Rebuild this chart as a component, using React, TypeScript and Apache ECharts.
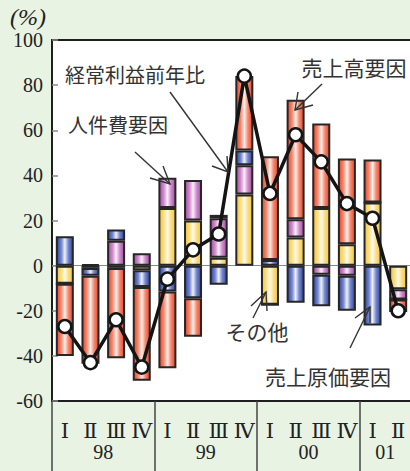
import React, { useEffect, useRef } from "react";
import * as echarts from "echarts";

// Quarter labels along the category axis (1998 Q1 – 2001 Q2)
const quarters = ["Ⅰ", "Ⅱ", "Ⅲ", "Ⅳ", "Ⅰ", "Ⅱ", "Ⅲ", "Ⅳ", "Ⅰ", "Ⅱ", "Ⅲ", "Ⅳ", "Ⅰ", "Ⅱ"];
// Fiscal years and how many quarters of each are shown
const years = ["98", "99", "00", "01"];
const yearQuarterCounts = [4, 4, 4, 2];

// Contribution of each factor (percentage points)
const otherFactor = [-8, -1, -1, -2, 25.5, 20, 3.5, 31.5, -17.3, 12.5, 25.5, 9.5, 28, -10.5];
const laborCostFactor = [0, 0.5, 11, 5.5, 13.5, 18, 17.5, 13, 0, 8, -4, -4.5, 0, -4.5];
const costOfSalesFactor = [13, -3.5, 5, -7.5, -11.5, -14.5, -8.5, 6.5, 2.5, -16.5, -14, -15.5, -26.5, 0];
const salesFactor = [-32, -39, -40, -41.5, -34, -17, 1.5, 33, 46, 53, 37.5, 38, 19, -5.5];

// Year-on-year change of ordinary profit (%)
const ordinaryProfitYoY = [-27, -43, -24, -45, -6, 7, 14, 84, 32, 58, 46, 27.5, 21, -20];

const yTicks = { min: -60, max: 100, interval: 20 };

const JP_FONT = "'Noto Sans CJK JP', sans-serif";
const SERIF = "'Liberation Serif', 'DejaVu Serif', serif";

function shade(edge: string, body: string, mid: string) {
  return new echarts.graphic.LinearGradient(0, 0, 1, 0, [
    { offset: 0, color: edge },
    { offset: 0.28, color: body },
    { offset: 0.5, color: mid },
    { offset: 0.72, color: body },
    { offset: 1, color: edge },
  ]);
}

function barSeries(name: string, data: number[], edge: string, body: string, mid: string) {
  return {
    name,
    type: "bar",
    stack: "total",
    data,
    barWidth: 18,
    itemStyle: { color: shade(edge, body, mid), borderColor: "#262626", borderWidth: 2 },
    z: 2,
  };
}

function arrow(line: number[][], head: number[][]) {
  return [
    { type: "polyline", shape: { points: line }, style: { stroke: "#333", lineWidth: 1.4, fill: null }, z: 50 },
    { type: "polyline", shape: { points: head }, style: { stroke: "#333", lineWidth: 1.4, fill: null }, z: 50 },
  ];
}

function note(text: string, x: number, y: number, size: number) {
  return {
    type: "text",
    x,
    y,
    z: 50,
    style: {
      text,
      fill: "#333",
      font: `${size}px ${JP_FONT}`,
      textAlign: "center",
      textVerticalAlign: "middle",
    },
  };
}

export default function App() {
  const ref = useRef<HTMLDivElement>(null);

  useEffect(() => {
    if (!ref.current) return;
    const chart = echarts.init(ref.current, undefined, { renderer: "svg" });

    const yearStarts: number[] = [];
    const yearCenters: number[] = [];
    let acc = 0;
    yearQuarterCounts.forEach((n) => {
      yearStarts.push(acc);
      yearCenters.push(acc + n / 2);
      acc += n;
    });

    const option = {
      animation: false,
      backgroundColor: "transparent",
      grid: {
        left: 52,
        top: 40,
        right: 9,
        bottom: 70,
        show: true,
        backgroundColor: "#ffffff",
        borderColor: "#1e1e1e",
        borderWidth: 2,
      },
      xAxis: [
        {
          type: "category",
          data: quarters,
          position: "bottom",
          axisLine: { show: false, onZero: false },
          axisTick: { show: false },
          splitLine: { show: false },
          axisLabel: {
            interval: 0,
            margin: 19,
            fontSize: 21,
            fontFamily: SERIF,
            color: "#222",
          },
        },
        {
          type: "value",
          min: 0,
          max: quarters.length,
          position: "bottom",
          axisLine: { show: false, onZero: false },
          splitLine: { show: false },
          axisTick: {
            show: true,
            customValues: yearStarts,
            length: 70,
            lineStyle: { color: "#444", width: 1.5 },
          },
          axisLabel: {
            customValues: yearCenters,
            formatter: (v: number) => {
              const i = yearCenters.indexOf(v);
              return i >= 0 ? years[i] : "";
            },
            margin: 41,
            fontSize: 20,
            fontFamily: SERIF,
            color: "#222",
          },
        },
      ],
      yAxis: {
        type: "value",
        min: yTicks.min,
        max: yTicks.max,
        interval: yTicks.interval,
        name: "(%)",
        nameLocation: "end",
        nameGap: 11,
        nameTextStyle: {
          fontSize: 24,
          fontStyle: "italic",
          fontFamily: SERIF,
          color: "#222",
          align: "right",
          padding: [0, 6, 0, 0],
        },
        axisLine: { show: true, lineStyle: { color: "#1e1e1e", width: 2 } },
        axisTick: { show: true, inside: true, length: 6, lineStyle: { color: "#888", width: 1.5 } },
        splitLine: { show: false },
        axisLabel: { fontSize: 20, fontFamily: SERIF, color: "#222", margin: 9 },
      },
      series: [
        {
          ...barSeries("その他", otherFactor, "#f4c640", "#fadf86", "#fffaea"),
          markLine: {
            silent: true,
            symbol: "none",
            label: { show: false },
            lineStyle: { color: "#8a8a8a", width: 1, type: "solid" },
            data: [{ yAxis: 0 }],
            z: 1,
          },
        },
        barSeries("人件費要因", laborCostFactor, "#a24aa2", "#cf8fcc", "#fbeefa"),
        barSeries("売上原価要因", costOfSalesFactor, "#2f44a0", "#7587cc", "#eef1ff"),
        barSeries("売上高要因", salesFactor, "#ea4528", "#f58a72", "#fff0ea"),
        {
          name: "経常利益前年比",
          type: "line",
          data: ordinaryProfitYoY,
          z: 10,
          symbol: "circle",
          symbolSize: 13,
          lineStyle: { color: "#141414", width: 3.5 },
          itemStyle: { color: "#ffffff", borderColor: "#141414", borderWidth: 2.5 },
        },
      ],
      graphic: [
        note("経常利益前年比", 135, 74, 20),
        note("人件費要因", 118, 124, 20),
        note("売上高要因", 354, 67, 21),
        note("その他", 257, 331, 21),
        note("売上原価要因", 328, 376, 21),
        ...arrow([[170, 92], [228, 172]], [[212, 166], [228, 172], [227, 156]]),
        ...arrow([[135, 152], [170, 184]], [[163, 166], [170, 184], [150, 178]]),
        ...arrow([[322, 84], [295, 110]], [[298, 92], [295, 110], [313, 105]]),
        ...arrow([[253, 318], [266, 292]], [[251, 306], [266, 292], [267, 311]]),
        ...arrow([[350, 348], [370, 307]], [[355, 318], [370, 307], [370, 323]]),
      ],
    };

    chart.setOption(option as any);
    return () => chart.dispose();
  }, []);

  return (
    <div
      style={{
        position: "fixed",
        left: 0,
        top: 0,
        width: 410,
        height: 471,
        overflow: "hidden",
        background: "#e8f3e4",
      }}
    >
      <div ref={ref} style={{ width: 420, height: 471 }} />
    </div>
  );
}
